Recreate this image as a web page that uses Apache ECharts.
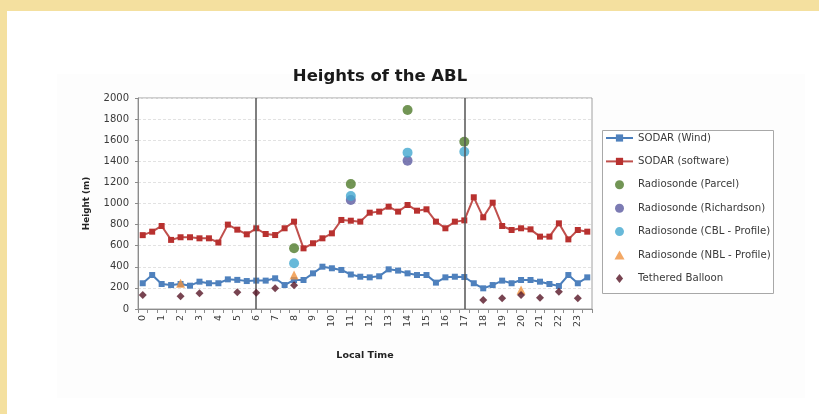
<!DOCTYPE html>
<html>
<head>
<meta charset="utf-8">
<script src="https://cdn.jsdelivr.net/npm/echarts@6/dist/echarts.min.js"></script>
<style>
  html, body { margin: 0; padding: 0; background: #f4e09f; }
  #chart { width: 819px; height: 414px; }
</style>
</head>
<body>
<div id="chart"></div>
<script>
// Half-hourly local time categories (labels shown on the whole hours)
const hours = ['0','0.5','1','1.5','2','2.5','3','3.5','4','4.5','5','5.5',
  '6','6.5','7','7.5','8','8.5','9','9.5','10','10.5','11','11.5',
  '12','12.5','13','13.5','14','14.5','15','15.5','16','16.5','17','17.5',
  '18','18.5','19','19.5','20','20.5','21','21.5','22','22.5','23','23.5'];

// SODAR boundary-layer heights (m)
const sodarWind = [244,322,237,227,237,221,259,244,244,281,276,265,
  269,269,291,227,275,275,338,401,386,370,327,306,
  300,310,376,364,338,322,322,250,300,306,303,244,
  196,227,269,244,275,275,259,237,218,322,244,300];
const sodarSoftware = [700,733,787,655,680,680,670,670,630,800,752,708,
  765,711,701,765,828,575,623,670,717,844,837,828,
  913,923,970,923,986,932,945,828,765,828,840,1059,
  869,1008,787,749,765,755,686,686,812,660,749,733];

// Radiosonde launches and tethered balloon soundings: [hour, height]
const radioParcel = [['8',575],['11',1185],['14',1886],['17',1586]];
const radioRichardson = [['11',1033],['14',1406]];
const radioCBL = [['8',433],['11',1071],['14',1482],['17',1491]];
const radioNBL = [['2',245],['8',322],['20',180]];
const tetheredBalloon = [['0',133],['2',120],['3',149],['5',158],['6',155],['7',196],['8',225],
  ['18',85],['19',101],['20',133],['21',107],['22',164],['23',101]];

// Time marks for the vertical separators
const separators = ['6','17'];

const yTicks = { min: 0, max: 2000, step: 200 };

const font = '"DejaVu Sans", sans-serif';
const triangleIcon = 'path://M5,0 L10,9 L0,9 Z';
const diamondIcon = 'path://M4,0 L8,5 L4,10 L0,5 Z';

const chart = echarts.init(document.getElementById('chart'));

chart.setOption({
  backgroundColor: 'transparent',
  animation: false,
  textStyle: { fontFamily: font },
  graphic: [
    { type: 'rect', left: 7, top: 11, shape: { width: 812, height: 403 }, style: { fill: '#ffffff' }, z: -10 },
    { type: 'rect', left: 57, top: 74, shape: { width: 748, height: 324 }, style: { fill: '#fdfdfd' }, z: -9 },
    { type: 'rect', left: 602, top: 130, shape: { width: 171, height: 163 },
      style: { fill: '#ffffff', stroke: '#a8a8a8', lineWidth: 1 }, z: -8 }
  ],
  title: {
    text: 'Heights of the ABL',
    left: 375, top: 63, textAlign: 'center',
    textStyle: { fontSize: 16.5, fontWeight: 'bold', color: '#1a1a1a', fontFamily: font }
  },
  grid: {
    left: 138, right: 227, top: 98, bottom: 105,
    show: true, borderColor: '#a0a0a0', borderWidth: 1, backgroundColor: '#ffffff'
  },
  legend: {
    orient: 'vertical', left: 605, top: 133,
    itemGap: 13.4, itemWidth: 27, itemHeight: 9,
    padding: 0,
    symbolKeepAspect: true,
    textStyle: { fontSize: 10.2, color: '#3a3a3a', fontFamily: font },
    data: [
      'SODAR (Wind)', 'SODAR (software)',
      { name: 'Radiosonde (Parcel)', icon: 'circle' },
      { name: 'Radiosonde (Richardson)', icon: 'circle' },
      { name: 'Radiosonde (CBL - Profile)', icon: 'circle' },
      { name: 'Radiosonde (NBL - Profile)', icon: triangleIcon },
      { name: 'Tethered Balloon', icon: diamondIcon }
    ]
  },
  xAxis: {
    type: 'category',
    data: hours,
    boundaryGap: true,
    name: 'Local Time',
    nameLocation: 'middle',
    nameGap: 42,
    nameTextStyle: { fontSize: 9.5, fontWeight: 'bold', color: '#222' },
    axisLine: { lineStyle: { color: '#8c8c8c' } },
    axisTick: { show: true, interval: 0, length: 4, lineStyle: { color: '#8c8c8c' } },
    axisLabel: { interval: 1, rotate: 90, fontSize: 9.5, color: '#3a3a3a', margin: 6 },
    splitLine: { show: false }
  },
  yAxis: {
    type: 'value',
    min: yTicks.min, max: yTicks.max, interval: yTicks.step,
    name: 'Height (m)',
    nameLocation: 'middle',
    nameGap: 47,
    nameRotate: 90,
    nameTextStyle: { fontSize: 8.8, fontWeight: 'bold', color: '#222' },
    axisLine: { show: true, lineStyle: { color: '#8c8c8c' } },
    axisTick: { show: true, length: 3, lineStyle: { color: '#8c8c8c' } },
    axisLabel: { fontSize: 10, color: '#3a3a3a', margin: 9, formatter: v => String(v) },
    splitLine: { show: true, lineStyle: { color: '#e2e2e2', type: [3, 2] } }
  },
  series: [
    {
      name: 'SODAR (Wind)', type: 'line', data: sodarWind,
      symbol: 'rect', symbolSize: 6,
      itemStyle: { color: '#4f81bd' },
      lineStyle: { color: '#4a7ebb', width: 2 },
      z: 3,
      markLine: {
        silent: true, symbol: 'none', label: { show: false },
        lineStyle: { color: '#555555', width: 1.5, type: 'solid' },
        data: separators.map(h => ({ xAxis: h }))
      }
    },
    {
      name: 'SODAR (software)', type: 'line', data: sodarSoftware,
      symbol: 'rect', symbolSize: 6,
      itemStyle: { color: '#b8312f' },
      lineStyle: { color: '#c0504d', width: 2 },
      z: 3
    },
    {
      name: 'Radiosonde (Parcel)', type: 'scatter', data: radioParcel,
      symbol: 'circle', symbolSize: 10,
      itemStyle: { color: '#4f7a2b' }, z: 4
    },
    {
      name: 'Radiosonde (Richardson)', type: 'scatter', data: radioRichardson,
      symbol: 'circle', symbolSize: 10,
      itemStyle: { color: '#5b5aa0' }, z: 4
    },
    {
      name: 'Radiosonde (CBL - Profile)', type: 'scatter', data: radioCBL,
      symbol: 'circle', symbolSize: 10,
      itemStyle: { color: '#42a7cf' }, z: 4
    },
    {
      name: 'Radiosonde (NBL - Profile)', type: 'scatter', data: radioNBL,
      symbol: 'triangle', symbolSize: 9,
      itemStyle: { color: '#f0923e' }, z: 4
    },
    {
      name: 'Tethered Balloon', type: 'scatter', data: tetheredBalloon,
      symbol: 'diamond', symbolSize: 8,
      itemStyle: { color: '#561526' }, z: 5
    }
  ]
});
</script>
</body>
</html>
